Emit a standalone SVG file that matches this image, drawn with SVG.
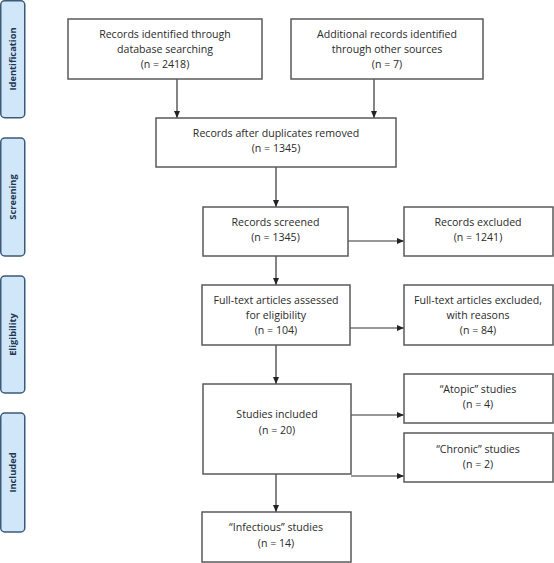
<svg xmlns="http://www.w3.org/2000/svg" width="554" height="563" viewBox="0 0 554 563">
<style>
.box{fill:#fff;stroke:#5a5a5a;stroke-width:1.5}
.phase{fill:#cfe7f9;stroke:#3d5a78;stroke-width:1.5}
.t{font-family:"Open Sans","Liberation Sans",sans-serif;font-size:10.6px;fill:#2a2a2a;text-anchor:middle}
.p{font-family:"Open Sans","Liberation Sans",sans-serif;font-size:9.3px;font-weight:bold;fill:#1f3550;text-anchor:middle}
.c{stroke:#333;stroke-width:1.2;fill:none;marker-end:url(#ah)}
</style>
<defs>
<marker id="ah" markerWidth="8" markerHeight="8" refX="7" refY="4" orient="auto" markerUnits="userSpaceOnUse">
<path d="M0,1 L7,4 L0,7 Z" fill="#222"/>
</marker>
</defs>
<rect width="554" height="563" fill="#fff"/>
<g id="phase-identification"><rect class="phase" x="0.75" y="0.75" width="24" height="117" rx="4"/><text class="p" transform="translate(16,59) rotate(-90)">Identification</text></g>
<g id="phase-screening"><rect class="phase" x="0.75" y="138" width="24" height="118" rx="4"/><text class="p" transform="translate(16,197) rotate(-90)">Screening</text></g>
<g id="phase-eligibility"><rect class="phase" x="0.75" y="276" width="24" height="117" rx="4"/><text class="p" transform="translate(16,334.5) rotate(-90)">Eligibility</text></g>
<g id="phase-included"><rect class="phase" x="0.75" y="413" width="24" height="119" rx="4"/><text class="p" transform="translate(16,472.5) rotate(-90)">Included</text></g>

<g id="connectors">
<line class="c" x1="177" y1="79" x2="177" y2="118"/>
<line class="c" x1="374" y1="79" x2="374" y2="118"/>
<line class="c" x1="276" y1="167" x2="276" y2="207"/>
<line class="c" x1="348" y1="241" x2="404" y2="241"/>
<line class="c" x1="276" y1="256" x2="276" y2="285"/>
<line class="c" x1="350" y1="328" x2="404" y2="328"/>
<line class="c" x1="276" y1="345" x2="276" y2="384"/>
<line class="c" x1="351" y1="415" x2="404" y2="415"/>
<line class="c" x1="351" y1="476" x2="404" y2="476"/>
<line class="c" x1="276" y1="474" x2="276" y2="512"/>
</g>

<g id="n1"><rect class="box" x="68" y="19" width="194" height="60"/><text class="t" x="165" y="38">Records identified through</text><text class="t" x="165" y="53">database searching</text><text class="t" x="165" y="68">(n = 2418)</text></g>
<g id="n2"><rect class="box" x="291" y="19" width="192" height="60"/><text class="t" x="387" y="38">Additional records identified</text><text class="t" x="387" y="53">through other sources</text><text class="t" x="387" y="68">(n = 7)</text></g>
<g id="n3"><rect class="box" x="156" y="118" width="240" height="49"/><text class="t" x="276" y="137">Records after duplicates removed</text><text class="t" x="276" y="152">(n = 1345)</text></g>
<g id="n4"><rect class="box" x="203" y="207" width="145" height="49"/><text class="t" x="275.5" y="226">Records screened</text><text class="t" x="275.5" y="241">(n = 1345)</text></g>
<g id="n5"><rect class="box" x="404" y="207" width="149" height="49"/><text class="t" x="478" y="226">Records excluded</text><text class="t" x="478" y="241">(n = 1241)</text></g>
<g id="n6"><rect class="box" x="202" y="285" width="148" height="60"/><text class="t" x="276" y="304">Full-text articles assessed</text><text class="t" x="276" y="319">for eligibility</text><text class="t" x="276" y="334">(n = 104)</text></g>
<g id="n7"><rect class="box" x="404" y="285" width="149" height="60"/><text class="t" x="478" y="304">Full-text articles excluded,</text><text class="t" x="478" y="319">with reasons</text><text class="t" x="478" y="334">(n = 84)</text></g>
<g id="n8"><rect class="box" x="203" y="384" width="148" height="90"/><text class="t" x="277" y="418">Studies included</text><text class="t" x="277" y="434">(n = 20)</text></g>
<g id="n9"><rect class="box" x="404" y="374" width="149" height="49"/><text class="t" x="478" y="393">“Atopic” studies</text><text class="t" x="478" y="408">(n = 4)</text></g>
<g id="n10"><rect class="box" x="404" y="433" width="149" height="49"/><text class="t" x="478" y="453">“Chronic” studies</text><text class="t" x="478" y="468">(n = 2)</text></g>
<g id="n11"><rect class="box" x="202" y="512" width="149" height="50"/><text class="t" x="276" y="531">“Infectious” studies</text><text class="t" x="276" y="547">(n = 14)</text></g>
</svg>
